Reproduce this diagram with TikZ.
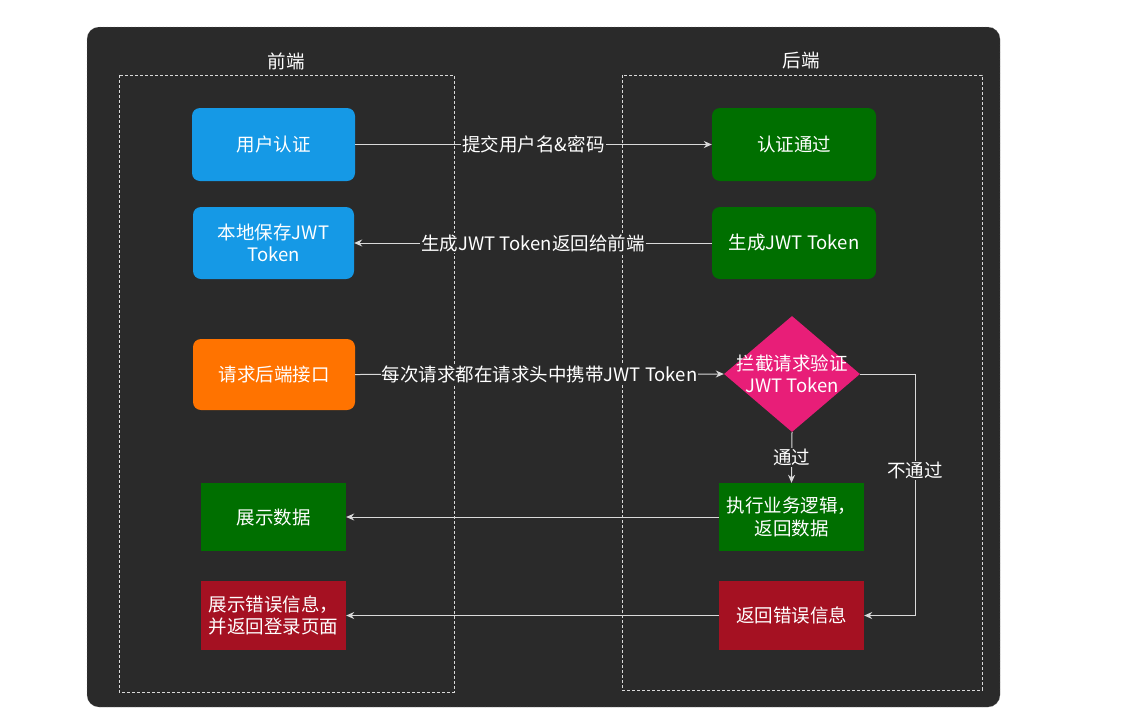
\documentclass[tikz,border=0pt]{standalone}
\usepackage{fontspec}
\setmainfont{Noto Sans CJK SC}
\usetikzlibrary{shapes.geometric,arrows.meta}
\definecolor{bgdark}{HTML}{2A2A2A}
\definecolor{cblue}{HTML}{1599E6}
\definecolor{corange}{HTML}{FF7300}
\definecolor{cgreen}{HTML}{006F00}
\definecolor{cred}{HTML}{A51122}
\definecolor{cpink}{HTML}{E81E78}
\definecolor{cline}{HTML}{D9D9D9}
\tikzset{
  txt/.style={text=white,font=\fontsize{18.5}{22.5}\selectfont,align=center},
  rbox/.style={txt,rounded corners=8pt,inner sep=0pt},
  sbox/.style={txt,inner sep=0pt},
  grp/.style={draw=white!85!black,dash pattern=on 3pt off 2pt,line width=0.8pt},
  conn/.style={draw=cline,line width=1pt,-{Stealth[length=8pt,width=7pt]}},
  lbl/.style={fill=bgdark,text=white,font=\fontsize{18.5}{22.5}\selectfont,inner sep=1pt},
}
\begin{document}
\begin{tikzpicture}[x=1pt,y=-1pt]
\useasboundingbox (0,0) rectangle (1141,710);
\fill[white] (0,0) rectangle (1141,710);
\draw[fill=bgdark,draw=white!55!black,densely dotted,rounded corners=12pt] (87,27) rectangle (1000,707);
% groups
\draw[grp] (119,75) rectangle (454,692);
\draw[grp] (622,75) rectangle (982,690);
\node[txt] (gf) at (286,61) {前端};
\node[txt] (gb) at (801,61) {后端};
% front nodes
\node[rbox,fill=cblue,minimum width=163pt,minimum height=73pt] (auth) at (273.5,144.5) {用户认证};
\node[rbox,fill=cblue,minimum width=161pt,minimum height=72pt] (save) at (273.5,243) {本地保存JWT\\Token};
\node[rbox,fill=corange,minimum width=162pt,minimum height=71pt] (req) at (274,374.5) {请求后端接口};
\node[sbox,fill=cgreen,minimum width=145pt,minimum height=68pt] (show) at (273.5,517) {展示数据};
\node[sbox,fill=cred,minimum width=145pt,minimum height=69pt] (showerr) at (273.5,615.5) {展示错误信息，\\并返回登录页面};
% back nodes
\node[rbox,fill=cgreen,minimum width=164pt,minimum height=73pt] (pass) at (794,144.5) {认证通过};
\node[rbox,fill=cgreen,minimum width=164pt,minimum height=72pt] (gen) at (794,243) {生成JWT Token};
\node[diamond,fill=cpink,minimum width=136pt,minimum height=116pt,inner sep=0pt] (dia) at (792,374) {};
\node[txt] (diat) at (dia.center) {拦截请求验证\\JWT Token};
\node[sbox,fill=cgreen,minimum width=145pt,minimum height=68pt] (exec) at (791.5,517) {执行业务逻辑，\\返回数据};
\node[sbox,fill=cred,minimum width=145pt,minimum height=69pt] (reterr) at (791.5,615.5) {返回错误信息};
% connectors
\draw[conn] (auth.east) -- node[lbl] {提交用户名\&密码} (pass.west);
\draw[conn] (gen.west) -- node[lbl] {生成JWT Token返回给前端} (save.east);
\draw[conn] (req.east) -- node[lbl] {每次请求都在请求头中携带JWT Token} (dia.west);
\draw[conn] (dia.south) -- node[lbl] {通过} (exec.north);
\coordinate (bend) at (915,374);
\draw[conn] (dia.east) -- (bend) -- node[lbl,pos=0.4] {不通过} (bend |- reterr.east) -- (reterr.east);
\draw[conn] (exec.west) -- (show.east);
\draw[conn] (reterr.west) -- (showerr.east);
\end{tikzpicture}
\end{document}
